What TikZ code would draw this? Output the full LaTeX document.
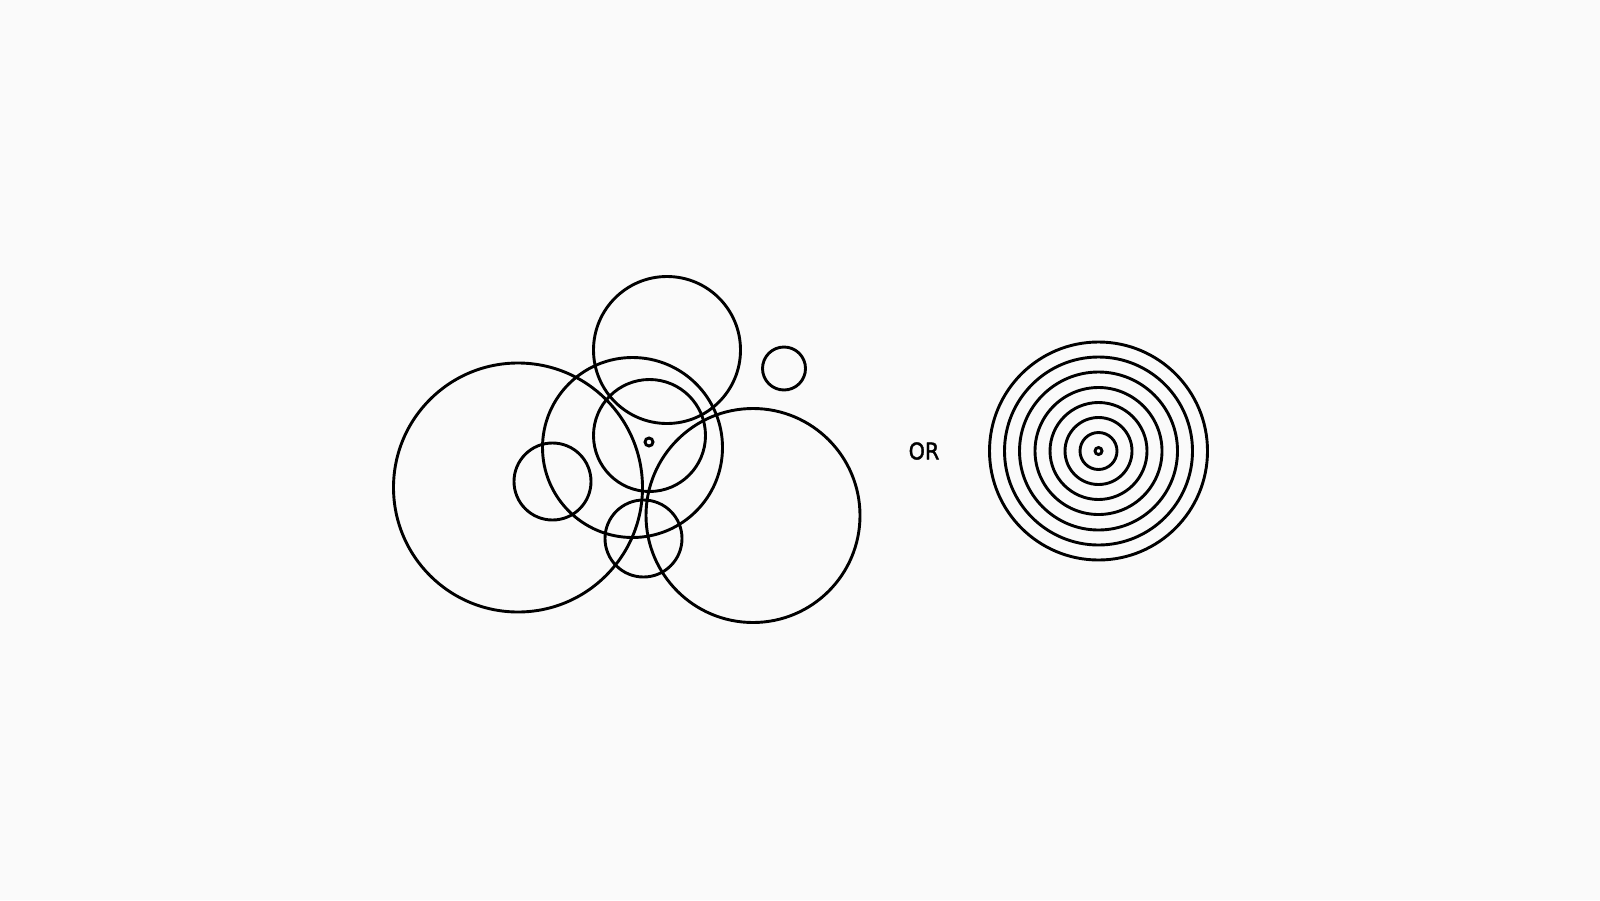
\documentclass[tikz,border=0pt]{standalone}
\usepackage{fontspec}
\newfontfamily\orfont[FakeBold=1.6]{DejaVu Sans Condensed}
\usetikzlibrary{positioning}
\definecolor{paper}{HTML}{FAFAFA}

\begin{document}
\begin{tikzpicture}[
        x=0.5pt, y=-0.5pt,
        ring/.style={draw=black, line width=1.45pt},
        word/.style={font=\orfont\fontsize{11.5}{13}\selectfont, inner sep=0pt},
    ]
\fill[paper] (0,0) rectangle (1600,900);

% scattered circles
\draw[ring] (518,487.5) circle[radius=124.5];
\draw[ring] (667,350) circle[radius=73.5];
\draw[ring] (784,368.5) circle[radius=21.5];
\draw[ring] (632.5,447.5) circle[radius=90];
\draw[ring] (649.5,435.5) circle[radius=56];
\draw[ring] (649,442) circle[radius=4];
\draw[ring] (552.5,481.5) circle[radius=38.5];
\draw[ring] (643.5,538.5) circle[radius=38.5];
\draw[ring] (753,515.5) circle[radius=107];

\node[word] (Or) at (924,451) {OR};

% concentric circles
\foreach \r in {109, 94, 79, 63.5, 48.5, 33.5, 18.5, 3.5}
    \draw[ring] (1098.5,451) circle[radius=\r];
\end{tikzpicture}
\end{document}
